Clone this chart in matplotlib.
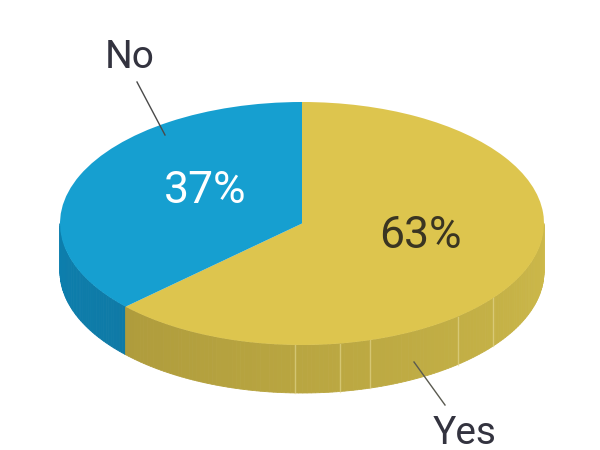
import numpy as np
import matplotlib
matplotlib.use('Agg')
import matplotlib.pyplot as plt
from matplotlib.patches import Wedge, Polygon
from matplotlib.transforms import Affine2D

labels = ['Yes', 'No']
shares = [63, 37]
share_labels = ['63%', '37%']

top_colors = {'Yes': '#DDC54E', 'No': '#169FD0'}
side_left = {'Yes': '#AF9C3C', 'No': '#0C7FAE'}
side_right = {'Yes': '#CDB94A', 'No': '#0F7AA6'}
seam_angles = [268.3, 279, 286.3, 310, 322]  # pale facet lines on the rim

cx, cy = 302, 223.5
rx, ry = 242, 121.5
depth = 48

plt.rcParams['font.family'] = ['Roboto', 'DejaVu Sans']

fig = plt.figure(figsize=(6, 4.5), dpi=100)
ax = fig.add_axes([0, 0, 1, 1])
ax.set_xlim(0, 600)
ax.set_ylim(450, 0)
ax.axis('off')


def rim_point(theta, drop=0):
    t = np.radians(theta)
    return cx + rx * np.cos(t), cy - ry * np.sin(t) + drop


# slice angles, going clockwise from 12 o'clock
start = 90
spans = []
for name, share in zip(labels, shares):
    end = start - 360 * share / sum(shares)
    spans.append((name, end, start))
    start = end

# rim first, only the part that faces us (180-360 deg)
split = spans[0][1] % 360
rim_ranges = {'No': (180, split), 'Yes': (split, 360)}
for name, (lo, hi) in rim_ranges.items():
    c0 = np.array(matplotlib.colors.to_rgb(side_left[name]))
    c1 = np.array(matplotlib.colors.to_rgb(side_right[name]))
    for a in np.arange(lo, hi, 1.0):
        b = min(a + 1.0, hi)
        col = c0 + (c1 - c0) * (a - lo) / (hi - lo)
        pts = [rim_point(a), rim_point(b), rim_point(b, depth), rim_point(a, depth)]
        ax.add_patch(Polygon(pts, closed=True, facecolor=col, edgecolor=col, lw=0.6, zorder=1))

for a in seam_angles:
    x0, y0 = rim_point(a)
    x1, y1 = rim_point(a, depth)
    ax.plot([x0, x1], [y0, y1], color='#E6DA94', lw=1, alpha=0.6, zorder=2)

# top face
ellipse = Affine2D().scale(rx, -ry).translate(cx, cy) + ax.transData
for name, t1, t2 in spans:
    ax.add_patch(Wedge((0, 0), 1, t1, t2, facecolor=top_colors[name], edgecolor='none',
                       transform=ellipse, zorder=3))

ax.text(420, 236, share_labels[0], fontsize=32, color='#3A3522', ha='center', va='center', zorder=4)
ax.text(205, 191, share_labels[1], fontsize=32, color='white', ha='center', va='center', zorder=4)

# leader lines and outside labels
ax.plot([137, 165], [82, 135], color='#4A4A4A', lw=1, zorder=4)
ax.plot([414, 445], [362, 405], color='#5A5A50', lw=1, zorder=4)
ax.text(130, 57, labels[1], fontsize=28, color='#33333F', ha='center', va='center', zorder=4)
ax.text(465, 433, labels[0], fontsize=28, color='#33333F', ha='center', va='center', zorder=4)

fig.savefig('out.png', dpi=100)
